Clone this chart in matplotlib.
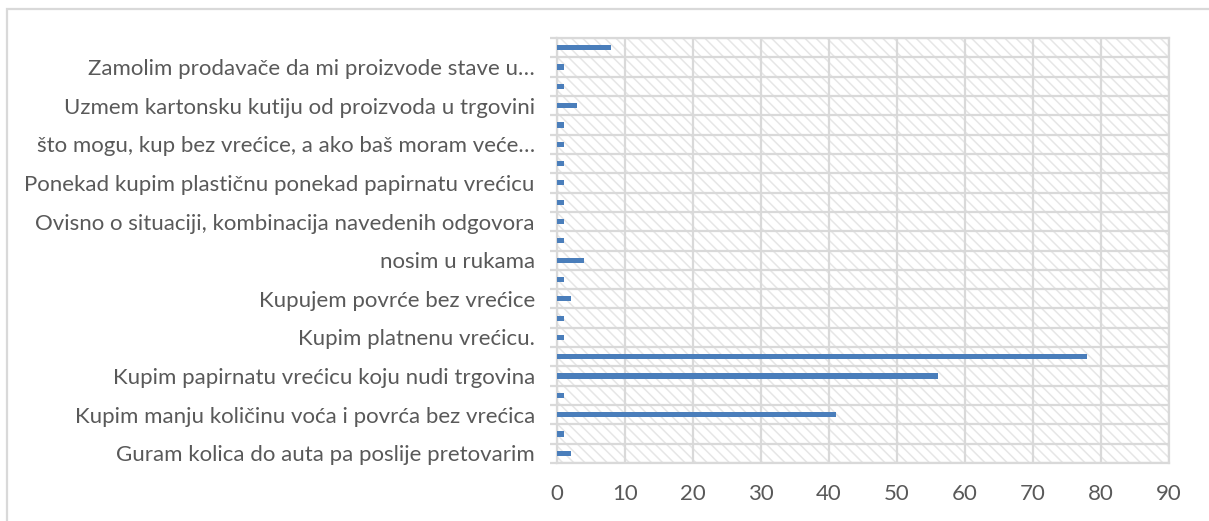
import matplotlib
matplotlib.use('Agg')
import matplotlib.pyplot as plt
from matplotlib.patches import Rectangle

# Categories from bottom to top (every other label is hidden in the source chart)
labels = [
    'Guram kolica do auta pa poslije pretovarim', '',
    'Kupim manju količinu voća i povrća bez vrećica', '',
    'Kupim papirnatu vrećicu koju nudi trgovina', '',
    'Kupim platnenu vrećicu.', '',
    'Kupujem povrće bez vrećice', '',
    'nosim u rukama', '',
    'Ovisno o situaciji, kombinacija navedenih odgovora', '',
    'Ponekad kupim plastičnu ponekad papirnatu vrećicu', '',
    'što mogu, kup bez vrećice, a ako baš moram veće…', '',
    'Uzmem kartonsku kutiju od proizvoda u trgovini', '',
    'Zamolim prodavače da mi proizvode stave u…', '',
]
values = [2, 1, 41, 1, 56, 78, 1, 1, 2, 1, 4, 1,
          1, 1, 1, 1, 1, 1, 3, 1, 1, 8]
x_ticks = [0, 10, 20, 30, 40, 50, 60, 70, 80, 90]

grid_color = '#d9d9d9'
text_color = '#595959'
bar_color = '#4a7ebb'

plt.rcParams['font.family'] = ['Lato', 'DejaVu Sans']
plt.rcParams['hatch.color'] = '#e6e6e6'
plt.rcParams['hatch.linewidth'] = 1.1

fig = plt.figure(figsize=(12.09, 5.21), dpi=100)
ax = fig.add_axes([557 / 1209, 1 - 463 / 521, 612 / 1209, 425 / 521])

# hatched plot area
ax.add_patch(Rectangle((0, 0), 1, 1, transform=ax.transAxes, facecolor='white',
                       edgecolor='#e6e6e6', hatch='\\\\\\', linewidth=0, zorder=0))

pos = list(range(len(values)))
ax.barh(pos, values, height=0.27, color=bar_color, zorder=3)

ax.set_xlim(0, 90)
ax.set_ylim(-0.5, len(values) - 0.5)
ax.set_xticks(x_ticks)
ax.set_yticks(pos)
ax.set_yticklabels(labels)
ax.set_yticks([p - 0.5 for p in pos] + [len(values) - 0.5], minor=True)

ax.grid(axis='x', which='major', color=grid_color, linewidth=1.6, zorder=1)
ax.grid(axis='y', which='minor', color=grid_color, linewidth=1.6, zorder=1)
ax.grid(axis='y', which='major', visible=False)

for s in ax.spines.values():
    s.set_color(grid_color)
    s.set_linewidth(1.6)

ax.tick_params(axis='y', which='major', length=0, pad=16, labelsize=16, labelcolor=text_color)
ax.tick_params(axis='y', which='minor', length=5, width=1.6, color=grid_color)
ax.tick_params(axis='x', which='major', length=0, pad=15, labelsize=16, labelcolor=text_color)

# chart outer border
fig.add_artist(Rectangle((7 / 1209, -0.05), 1.1, 1 - 9 / 521 + 0.05, transform=fig.transFigure,
                         facecolor='none', edgecolor=grid_color, linewidth=1.6))

fig.savefig('out.png', dpi=100)
